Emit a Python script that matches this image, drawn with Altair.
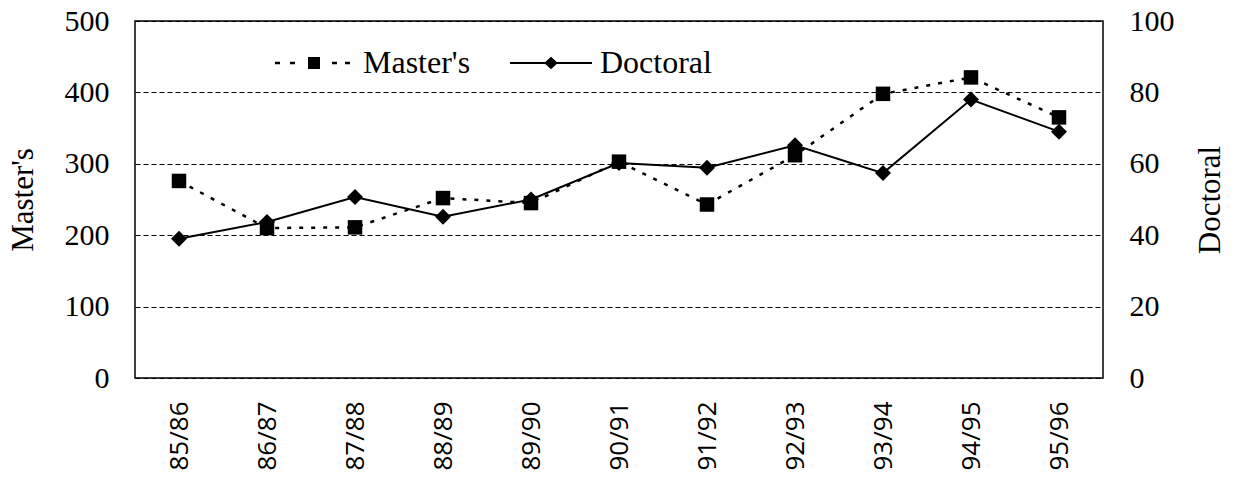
import altair as alt
import pandas as pd

years = ["85/86", "86/87", "87/88", "88/89", "89/90", "90/91",
         "91/92", "92/93", "93/94", "94/95", "95/96"]
masters = [276, 210, 211, 252, 245, 303, 243, 312, 398, 421, 365]
doctoral = [39, 43.7, 50.7, 45.2, 50, 60.2, 58.9, 65.2, 57.4, 78, 69]
series_names = ["Master's", "Doctoral"]
left_ticks = [0, 100, 200, 300, 400, 500]
right_ticks = [0, 20, 40, 60, 80, 100]

dm = pd.DataFrame({"year": years, "value": masters, "series": series_names[0]})
dd = pd.DataFrame({"year": years, "value": doctoral, "series": series_names[1]})

serif = "Liberation Serif"
sans = "Open Sans"

x = alt.X(
    "year:N", sort=years, title=None,
    scale=alt.Scale(padding=0.5),
    axis=alt.Axis(labelAngle=-90, labelFont=sans, labelFontSize=26,
                  labelColor="black", labelPadding=23, ticks=False,
                  domain=False, grid=False),
)

# legend glyphs (unit coordinates of the symbol): dashed line + square, solid line + diamond
sq_path = ("M-3.9,-0.12H-3.4V0.12H-3.9Z M-2.4,-0.12H-1.9V0.12H-2.4Z "
           "M-0.6,-0.6H0.6V0.6H-0.6Z "
           "M1.8,-0.12H2.3V0.12H1.8Z M3.1,-0.12H3.6V0.12H3.1Z")
dm_path = ("M-4.1,-0.1H4.1V0.1H-4.1Z "
           "M0,-0.62L0.68,0L0,0.62L-0.68,0Z")

legend = alt.Legend(
    orient="none", legendX=163, legendY=26, direction="horizontal",
    title=None, symbolSize=400, symbolStrokeWidth=0,
    symbolFillColor="black",
    labelFont=serif, labelFontSize=32,
    labelColor="black", labelOffset=33, columnPadding=39,
)
shape = alt.Shape("series:N", scale=alt.Scale(domain=series_names, range=[sq_path, dm_path]), legend=legend)

yl = alt.Y(
    "value:Q", scale=alt.Scale(domain=[0, 500]),
    axis=alt.Axis(values=left_ticks, title="Master's", titleFont=serif,
                  titleFontSize=31, titleFontWeight="normal", titleColor="black",
                  titlePadding=25, labelFont=serif, labelFontSize=30,
                  labelColor="black", labelPadding=26, ticks=False, domain=False,
                  grid=True, gridDash=[5, 3], gridColor="black", gridWidth=1,
                  gridOpacity=1),
)
yr = alt.Y(
    "value:Q", scale=alt.Scale(domain=[0, 100]),
    axis=alt.Axis(orient="right", values=right_ticks, title="Doctoral",
                  titleFont=serif, titleFontSize=31, titleFontWeight="normal",
                  titleColor="black", titleAngle=270, titlePadding=52,
                  labelFont=serif, labelFontSize=30, labelColor="black",
                  labelPadding=26, ticks=False, domain=False, grid=False),
)

m_line = alt.Chart(dm).mark_line(color="black", strokeWidth=2.5, strokeDash=[4, 8]).encode(x=x, y=yl)
m_pts = alt.Chart(dm).mark_point(shape="square", filled=True, color="black",
                                 size=210, opacity=1).encode(x=x, y=yl)
legend_layer = alt.Chart(dm).transform_filter("false").mark_point(
    filled=True, color="black", strokeWidth=0, size=400, opacity=1
).encode(x=x, y=yl, shape=shape)
d_line = alt.Chart(dd).mark_line(color="black", strokeWidth=2).encode(x=x, y=yr)
d_pts = alt.Chart(dd).mark_point(shape="diamond", filled=True, color="black",
                                 size=256, opacity=1).encode(x=x, y=yr)

left = alt.layer(m_line, m_pts, legend_layer)
right = alt.layer(d_line, d_pts)

chart = alt.layer(left, right).resolve_scale(y="independent").properties(
    width=968, height=357,
    autosize=alt.AutoSizeParams(type="none"),
    padding={"left": 127, "top": 13, "right": 123, "bottom": 93},
    background="white",
).configure_view(stroke="black", strokeWidth=1.5)

chart.save("out.html", embed_options={"renderer": "svg", "actions": False})
